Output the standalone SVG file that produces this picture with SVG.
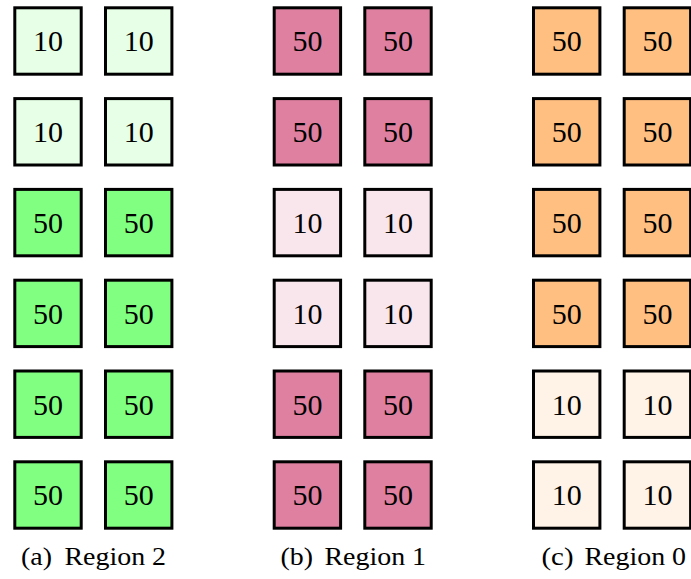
<svg xmlns="http://www.w3.org/2000/svg" width="691" height="579" viewBox="0 0 691 579">
  <style>
    .cell rect { stroke: #000; stroke-width: 3; }
    .cell text { font-family: "Liberation Serif", "Times New Roman", serif; font-size: 30px; text-anchor: middle; fill: #000; }
    .g10 { fill: #E6FFE6; }
    .g50 { fill: #80FF80; }
    .p10 { fill: #F9E6EC; }
    .p50 { fill: #DF80A0; }
    .o10 { fill: #FFF2E6; }
    .o50 { fill: #FFBF80; }
    .cap { font-family: "Liberation Serif", "Times New Roman", serif; font-size: 26px; fill: #000; }
  </style>

  <!-- (a) Region 2 -->
  <g id="region2">
    <g id="r2_0_0" class="cell" transform="translate(13.3,6.3)"><rect x="1.5" y="1.5" width="66.4" height="66.4" class="g10"/><text x="34.7" y="45">10</text></g>
    <g id="r2_0_1" class="cell" transform="translate(104,6.3)"><rect x="1.5" y="1.5" width="66.4" height="66.4" class="g10"/><text x="34.7" y="45">10</text></g>
    <g id="r2_1_0" class="cell" transform="translate(13.3,97.1)"><rect x="1.5" y="1.5" width="66.4" height="66.4" class="g10"/><text x="34.7" y="45">10</text></g>
    <g id="r2_1_1" class="cell" transform="translate(104,97.1)"><rect x="1.5" y="1.5" width="66.4" height="66.4" class="g10"/><text x="34.7" y="45">10</text></g>
    <g id="r2_2_0" class="cell" transform="translate(13.3,187.9)"><rect x="1.5" y="1.5" width="66.4" height="66.4" class="g50"/><text x="34.7" y="45">50</text></g>
    <g id="r2_2_1" class="cell" transform="translate(104,187.9)"><rect x="1.5" y="1.5" width="66.4" height="66.4" class="g50"/><text x="34.7" y="45">50</text></g>
    <g id="r2_3_0" class="cell" transform="translate(13.3,278.7)"><rect x="1.5" y="1.5" width="66.4" height="66.4" class="g50"/><text x="34.7" y="45">50</text></g>
    <g id="r2_3_1" class="cell" transform="translate(104,278.7)"><rect x="1.5" y="1.5" width="66.4" height="66.4" class="g50"/><text x="34.7" y="45">50</text></g>
    <g id="r2_4_0" class="cell" transform="translate(13.3,369.5)"><rect x="1.5" y="1.5" width="66.4" height="66.4" class="g50"/><text x="34.7" y="45">50</text></g>
    <g id="r2_4_1" class="cell" transform="translate(104,369.5)"><rect x="1.5" y="1.5" width="66.4" height="66.4" class="g50"/><text x="34.7" y="45">50</text></g>
    <g id="r2_5_0" class="cell" transform="translate(13.3,460.3)"><rect x="1.5" y="1.5" width="66.4" height="66.4" class="g50"/><text x="34.7" y="45">50</text></g>
    <g id="r2_5_1" class="cell" transform="translate(104,460.3)"><rect x="1.5" y="1.5" width="66.4" height="66.4" class="g50"/><text x="34.7" y="45">50</text></g>
  </g>

  <!-- (b) Region 1 -->
  <g id="region1">
    <g id="r1_0_0" class="cell" transform="translate(272.7,6.3)"><rect x="1.5" y="1.5" width="66.4" height="66.4" class="p50"/><text x="34.7" y="45">50</text></g>
    <g id="r1_0_1" class="cell" transform="translate(363.3,6.3)"><rect x="1.5" y="1.5" width="66.4" height="66.4" class="p50"/><text x="34.7" y="45">50</text></g>
    <g id="r1_1_0" class="cell" transform="translate(272.7,97.1)"><rect x="1.5" y="1.5" width="66.4" height="66.4" class="p50"/><text x="34.7" y="45">50</text></g>
    <g id="r1_1_1" class="cell" transform="translate(363.3,97.1)"><rect x="1.5" y="1.5" width="66.4" height="66.4" class="p50"/><text x="34.7" y="45">50</text></g>
    <g id="r1_2_0" class="cell" transform="translate(272.7,187.9)"><rect x="1.5" y="1.5" width="66.4" height="66.4" class="p10"/><text x="34.7" y="45">10</text></g>
    <g id="r1_2_1" class="cell" transform="translate(363.3,187.9)"><rect x="1.5" y="1.5" width="66.4" height="66.4" class="p10"/><text x="34.7" y="45">10</text></g>
    <g id="r1_3_0" class="cell" transform="translate(272.7,278.7)"><rect x="1.5" y="1.5" width="66.4" height="66.4" class="p10"/><text x="34.7" y="45">10</text></g>
    <g id="r1_3_1" class="cell" transform="translate(363.3,278.7)"><rect x="1.5" y="1.5" width="66.4" height="66.4" class="p10"/><text x="34.7" y="45">10</text></g>
    <g id="r1_4_0" class="cell" transform="translate(272.7,369.5)"><rect x="1.5" y="1.5" width="66.4" height="66.4" class="p50"/><text x="34.7" y="45">50</text></g>
    <g id="r1_4_1" class="cell" transform="translate(363.3,369.5)"><rect x="1.5" y="1.5" width="66.4" height="66.4" class="p50"/><text x="34.7" y="45">50</text></g>
    <g id="r1_5_0" class="cell" transform="translate(272.7,460.3)"><rect x="1.5" y="1.5" width="66.4" height="66.4" class="p50"/><text x="34.7" y="45">50</text></g>
    <g id="r1_5_1" class="cell" transform="translate(363.3,460.3)"><rect x="1.5" y="1.5" width="66.4" height="66.4" class="p50"/><text x="34.7" y="45">50</text></g>
  </g>

  <!-- (c) Region 0 -->
  <g id="region0">
    <g id="r0_0_0" class="cell" transform="translate(532,6.3)"><rect x="1.5" y="1.5" width="66.4" height="66.4" class="o50"/><text x="34.7" y="45">50</text></g>
    <g id="r0_0_1" class="cell" transform="translate(622.7,6.3)"><rect x="1.5" y="1.5" width="66.4" height="66.4" class="o50"/><text x="34.7" y="45">50</text></g>
    <g id="r0_1_0" class="cell" transform="translate(532,97.1)"><rect x="1.5" y="1.5" width="66.4" height="66.4" class="o50"/><text x="34.7" y="45">50</text></g>
    <g id="r0_1_1" class="cell" transform="translate(622.7,97.1)"><rect x="1.5" y="1.5" width="66.4" height="66.4" class="o50"/><text x="34.7" y="45">50</text></g>
    <g id="r0_2_0" class="cell" transform="translate(532,187.9)"><rect x="1.5" y="1.5" width="66.4" height="66.4" class="o50"/><text x="34.7" y="45">50</text></g>
    <g id="r0_2_1" class="cell" transform="translate(622.7,187.9)"><rect x="1.5" y="1.5" width="66.4" height="66.4" class="o50"/><text x="34.7" y="45">50</text></g>
    <g id="r0_3_0" class="cell" transform="translate(532,278.7)"><rect x="1.5" y="1.5" width="66.4" height="66.4" class="o50"/><text x="34.7" y="45">50</text></g>
    <g id="r0_3_1" class="cell" transform="translate(622.7,278.7)"><rect x="1.5" y="1.5" width="66.4" height="66.4" class="o50"/><text x="34.7" y="45">50</text></g>
    <g id="r0_4_0" class="cell" transform="translate(532,369.5)"><rect x="1.5" y="1.5" width="66.4" height="66.4" class="o10"/><text x="34.7" y="45">10</text></g>
    <g id="r0_4_1" class="cell" transform="translate(622.7,369.5)"><rect x="1.5" y="1.5" width="66.4" height="66.4" class="o10"/><text x="34.7" y="45">10</text></g>
    <g id="r0_5_0" class="cell" transform="translate(532,460.3)"><rect x="1.5" y="1.5" width="66.4" height="66.4" class="o10"/><text x="34.7" y="45">10</text></g>
    <g id="r0_5_1" class="cell" transform="translate(622.7,460.3)"><rect x="1.5" y="1.5" width="66.4" height="66.4" class="o10"/><text x="34.7" y="45">10</text></g>
  </g>

  <!-- sub-captions -->
  <g id="captions">
    <text class="cap" x="21" y="565" textLength="31" lengthAdjust="spacingAndGlyphs">(a)</text>
    <text class="cap" x="64.5" y="565" textLength="101.5" lengthAdjust="spacingAndGlyphs">Region 2</text>
    <text class="cap" x="280.5" y="565" textLength="32.5" lengthAdjust="spacingAndGlyphs">(b)</text>
    <text class="cap" x="324.5" y="565" textLength="101.5" lengthAdjust="spacingAndGlyphs">Region 1</text>
    <text class="cap" x="541.5" y="565" textLength="32" lengthAdjust="spacingAndGlyphs">(c)</text>
    <text class="cap" x="584.5" y="565" textLength="101.5" lengthAdjust="spacingAndGlyphs">Region 0</text>
  </g>
</svg>
